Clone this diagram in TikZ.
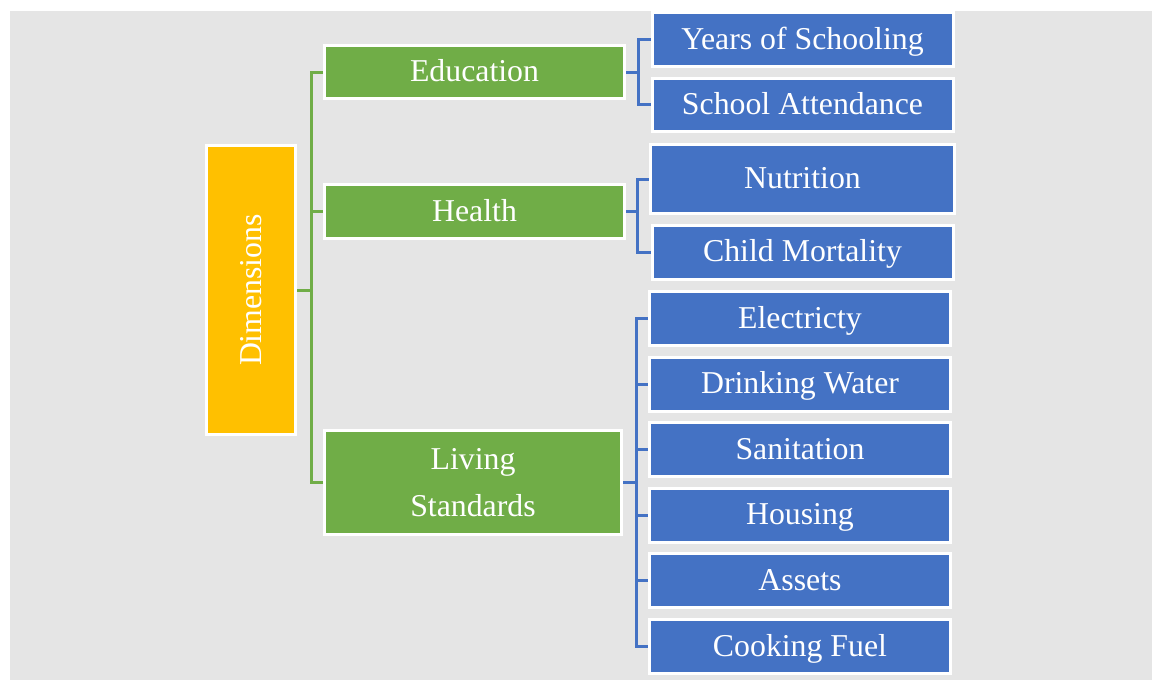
\documentclass[tikz,border=0pt]{standalone}
\usepackage{fontspec}
\setmainfont{Liberation Serif}
\usepackage{graphicx}
\usepackage{tikz}
\usetikzlibrary{positioning, backgrounds}
\usepackage{xcolor}
\definecolor{panelgray}{RGB}{229,229,229}
\definecolor{dimyellow}{RGB}{255,192,0}
\definecolor{catgreen}{RGB}{112,173,71}
\definecolor{leafblue}{RGB}{68,114,196}
\newcommand{\boxfont}{\fontsize{31.8}{47}\selectfont}

\begin{document}
\begin{tikzpicture}[
    x=1pt, y=-1pt,
    node distance=8.6pt,
    box/.style={rectangle, draw=white, line width=3pt, text=white,
                inner sep=0pt, align=center, font=\boxfont},
    oneline/.style={text height=25.4pt, text depth=6.4pt},
    dimbox/.style={box, fill=dimyellow},
    catbox/.style={box, fill=catgreen, minimum width=300pt},
    leafbox/.style={box, oneline, fill=leafblue, minimum width=301pt, minimum height=54pt},
    catline/.style={draw=catgreen, line width=3pt},
    leafline/.style={draw=leafblue, line width=3pt}
]
\useasboundingbox (0,0) rectangle (1152,680);
\node[dimbox, minimum width=89pt, minimum height=289pt] (dims) at (251,290) {\rotatebox{90}{Dimensions}};
\node[catbox, oneline, minimum height=53pt] (edu) at (474.5,72) {Education};
\node[catbox, oneline, minimum height=54pt] (health) at (474.5,211.5) {Health};
\node[catbox, minimum width=297pt, minimum height=104pt] (living) at (473,482.5) {Living\\Standards};
% indicators
\node[leafbox] (years) at (802.5,39.5) {Years of Schooling};
\node[leafbox, minimum height=53pt, below=of years] (attend) {School Attendance};
\node[leafbox, minimum width=304pt, minimum height=69pt] (nutrition) at (802.5,179) {Nutrition};
\node[leafbox, below=of nutrition] (mortality) {Child Mortality};
\node[leafbox] (electricity) at (800,318.5) {Electricty};
\node[leafbox, below=of electricity] (water) {Drinking Water};
\node[leafbox, below=of water] (sanitation) {Sanitation};
\node[leafbox, below=of sanitation] (housing) {Housing};
\node[leafbox, below=of housing] (assets) {Assets};
\node[leafbox, below=of assets] (fuel) {Cooking Fuel};
\begin{scope}[on background layer]
\fill[panelgray] (10,11) rectangle (1152,680);
% dimensions to categories
\draw[catline] (dims.east) -- ++(14,0) coordinate (dimsplit);
\draw[catline] (edu.west) -| (dimsplit) |- (living.west);
\draw[catline] (health.west) -- (health.west -| dimsplit);
% categories to indicators
\draw[leafline] (edu.east) -- ++(12,0) coordinate (edusplit);
\draw[leafline] (years.west) -| (edusplit) |- (attend.west);
\draw[leafline] (health.east) -- ++(11,0) coordinate (healthsplit);
\draw[leafline] (nutrition.west) -| (healthsplit) |- (mortality.west);
\draw[leafline] (living.east) -- ++(13,0) coordinate (livingsplit);
\draw[leafline] (electricity.west) -| (livingsplit) |- (fuel.west);
\foreach \n in {water, sanitation, housing, assets}
  \draw[leafline] (\n.west) -- (\n.west -| livingsplit);
\end{scope}
\end{tikzpicture}
\end{document}
